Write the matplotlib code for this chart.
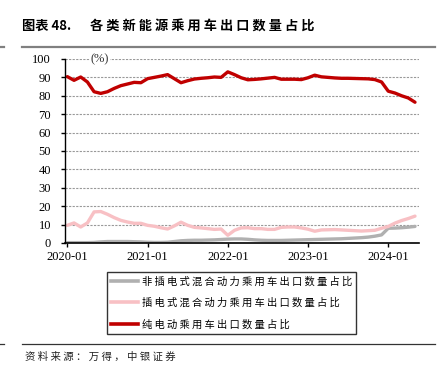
import matplotlib
matplotlib.use("Agg")
import matplotlib.pyplot as plt
from matplotlib.lines import Line2D

# monthly share (%) 2020-01 .. 2024-05
tick_labels = ["2020-01", "2021-01", "2022-01", "2023-01", "2024-01"]
tick_pos = [0, 12, 24, 36, 48]

hev = [0.2, 0.2, 0.2, 0.2, 0.3, 0.6, 0.8, 0.8, 0.8, 0.8, 0.7, 0.6,
       0.4, 0.3, 0.3, 0.4, 0.8, 1.2, 1.4, 1.5, 1.5, 1.6, 1.7, 1.9,
       2.1, 2.2, 2.2, 2.0, 1.7, 1.5, 1.4, 1.4, 1.4, 1.5, 1.6, 1.7,
       1.8, 1.9, 2.0, 2.1, 2.2, 2.3, 2.5, 2.7, 2.9, 3.2, 3.7, 4.4,
       8.0, 8.1, 8.3, 8.6, 9.0]
phev = [9.6, 10.9, 8.7, 10.9, 16.9, 17.1, 15.6, 13.8, 12.3, 11.4, 10.7, 10.7,
        9.6, 9.1, 8.3, 7.6, 9.3, 11.3, 9.6, 8.5, 8.2, 7.8, 7.4, 7.6,
        4.2, 6.9, 8.2, 8.3, 7.8, 7.8, 7.4, 7.4, 8.5, 8.7, 8.7, 8.2,
        7.5, 6.4, 7.1, 7.2, 7.3, 7.1, 6.9, 6.7, 6.5, 6.7, 6.9, 8.0,
        9.0, 10.8, 12.2, 13.3, 14.6]
bev = [90.4, 88.4, 90.2, 87.5, 82.2, 81.3, 82.2, 84.0, 85.5, 86.4, 87.3, 87.1,
       89.3, 90.0, 90.7, 91.5, 89.3, 87.1, 88.2, 89.1, 89.5, 89.8, 90.2, 90.0,
       93.0, 91.5, 89.8, 88.7, 88.9, 89.2, 89.6, 90.0, 89.0, 89.0, 89.0, 88.8,
       89.8, 91.2, 90.3, 90.0, 89.7, 89.5, 89.5, 89.4, 89.3, 89.2, 88.8, 87.5,
       82.5, 81.5, 80.0, 78.8, 76.5]

names = ["非插电式混合动力乘用车出口数量占比",
         "插电式混合动力乘用车出口数量占比",
         "纯电动乘用车出口数量占比"]
colors = ["#B0B0B0", "#F8C0C4", "#C00000"]

cjk = ["Noto Sans CJK SC", "DejaVu Sans"]
serif = "Liberation Serif"

def spaced(s):
    return " ".join(s)

fig = plt.figure(figsize=(4.44, 3.84), dpi=100)
ax = fig.add_axes([0.1464, 0.3672, 0.7973, 0.4792])

x = list(range(len(bev)))
for ys, c in zip([hev, phev, bev], colors):
    ax.plot(x, ys, color=c, lw=2.4, solid_capstyle="round", solid_joinstyle="round")

ax.set_xlim(-0.35, 52.6)
ax.set_ylim(0, 100)
ax.set_yticks(range(0, 101, 10))
ax.set_xticks(tick_pos)
ax.set_xticklabels(tick_labels)
ax.yaxis.grid(True, color="#999999", lw=0.8, linestyle=(0, (2, 1.2)))
ax.set_axisbelow(True)
for s in ["top", "right"]:
    ax.spines[s].set_visible(False)
ax.spines["left"].set_linewidth(1.0)
ax.spines["bottom"].set_linewidth(1.2)
ax.tick_params(axis="y", direction="out", length=3, width=1, pad=7, labelsize=9)
ax.tick_params(axis="x", direction="out", length=3, width=1, pad=2.5, labelsize=9)
for lab in ax.get_xticklabels() + ax.get_yticklabels():
    lab.set_fontfamily(serif)
ax.text(4.9, 100, "(%)", ha="center", va="center", fontsize=9, family=serif,
        color="#333333", bbox=dict(fc="white", ec="none", pad=0.5))

# title and rules
fig.text(22 / 444, 1 - 26 / 384, "图表 48.", fontsize=9.5, fontweight="bold",
         family=cjk, va="center", ha="left")
fig.text(90 / 444, 1 - 26 / 384, spaced("各类新能源乘用车出口数量占比"), fontsize=9.5,
         fontweight="bold", family=cjk, va="center", ha="left")
fig.add_artist(Line2D([22 / 444, 435 / 444], [1 - 47 / 384] * 2, color="#808080", lw=1.6))
fig.add_artist(Line2D([0, 4 / 444], [1 - 47 / 384] * 2, color="#808080", lw=1.6))
fig.add_artist(Line2D([22 / 444, 435 / 444], [1 - 344 / 384] * 2, color="#333333", lw=0.9))
fig.add_artist(Line2D([0, 4 / 444], [1 - 344 / 384] * 2, color="#333333", lw=0.9))
fig.text(25 / 444, 1 - 357 / 384, spaced("资料来源：万得，中银证券"), fontsize=7.5,
         family=cjk, style="italic", va="center", ha="left", color="#222222")

handles = [Line2D([], [], color=c, lw=2.6) for c in colors]
leg = fig.legend(handles, [spaced(n) for n in names], loc="upper left",
                 bbox_to_anchor=(107 / 444, 1 - 272 / 384), frameon=True,
                 fancybox=False, edgecolor="black", borderpad=0.4,
                 handlelength=2.6, handletextpad=0.4, labelspacing=1.1,
                 borderaxespad=0, prop={"family": cjk, "size": 7.4})
leg.get_frame().set_linewidth(1.0)

fig.savefig("out.png", dpi=100)
